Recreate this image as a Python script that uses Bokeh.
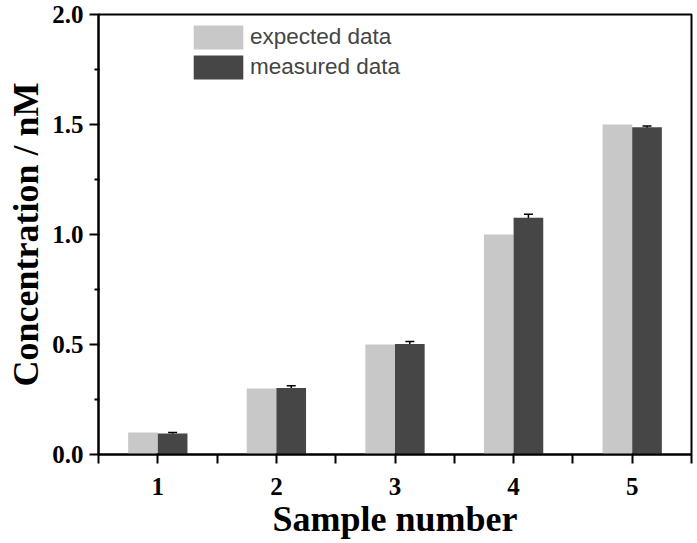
from bokeh.plotting import figure
from bokeh.models import ColumnDataSource, Whisker, FixedTicker, NumeralTickFormatter, Range1d, Legend, LegendItem
from bokeh.transform import dodge
from bokeh.embed import file_html
from bokeh.resources import INLINE

samples = [1, 2, 3, 4, 5]
expected = [0.10, 0.30, 0.50, 1.00, 1.50]
measured = [0.095, 0.302, 0.502, 1.076, 1.487]
measured_err = [0.005, 0.010, 0.012, 0.016, 0.006]
x_ticks = [1, 2, 3, 4, 5]
y_ticks = [0.0, 0.5, 1.0, 1.5, 2.0]

src = ColumnDataSource(dict(
    x=samples, expected=expected, measured=measured,
    upper=[m + e for m, e in zip(measured, measured_err)],
    lower=[m - e for m, e in zip(measured, measured_err)],
))

p = figure(width=693, height=541, output_backend="svg", toolbar_location=None,
           x_range=Range1d(0.5, 5.5), y_range=Range1d(0, 2.0))
p.min_border_left = 98
p.min_border_top = 14
p.min_border_right = 2
p.min_border_bottom = 80
p.outline_line_color = "black"
p.outline_line_width = 2
p.xgrid.visible = False
p.ygrid.visible = False

r1 = p.vbar(x=dodge("x", -0.125), top="expected", width=0.25, source=src,
            fill_color="#c8c8c8", line_color=None)
r2 = p.vbar(x=dodge("x", 0.125), top="measured", width=0.25, source=src,
            fill_color="#464646", line_color=None)

wh = Whisker(base=dodge("x", 0.125), upper="upper", lower="lower", source=src,
             line_color="black", line_width=1.5)
wh.upper_head.size = 9
wh.lower_head.size = 9
wh.upper_head.line_width = 1.5
wh.lower_head.line_width = 1.5
p.add_layout(wh)

font = "Liberation Serif"
for ax in (p.xaxis[0], p.yaxis[0]):
    ax.axis_line_width = 2
    ax.major_tick_line_width = 2
    ax.minor_tick_line_width = 2
    ax.major_tick_out = 9
    ax.major_tick_in = 1
    ax.major_label_text_font = font
    ax.major_label_text_font_style = "bold"
    ax.major_label_text_font_size = "25px"
    ax.axis_label_text_font = font
    ax.axis_label_text_font_style = "bold"
    ax.axis_label_text_font_size = "36px"
    ax.axis_label_text_color = "black"
    ax.major_label_text_color = "black"

p.xaxis.ticker = FixedTicker(ticks=x_ticks, minor_ticks=[0.5, 1.5, 2.5, 3.5, 4.5, 5.5])
p.xaxis.formatter = NumeralTickFormatter(format="0")
p.xaxis.minor_tick_out = 9
p.xaxis.minor_tick_in = 0
p.xaxis.axis_label = "Sample number"
p.xaxis.major_label_standoff = 14
p.xaxis.axis_label_standoff = 1

p.yaxis.ticker = FixedTicker(ticks=y_ticks, minor_ticks=[0.25, 0.75, 1.25, 1.75])
p.yaxis.formatter = NumeralTickFormatter(format="0.0")
p.yaxis.minor_tick_out = 4
p.yaxis.minor_tick_in = 1
p.yaxis.axis_label = "Concentration / nM"
p.yaxis.major_label_standoff = 6
p.yaxis.axis_label_standoff = 3

legend = Legend(items=[LegendItem(label="expected data", renderers=[r1]),
                       LegendItem(label="measured data", renderers=[r2])],
                location=(89, 372))
legend.glyph_width = 62
legend.glyph_height = 30
legend.spacing = -3
legend.padding = 0
legend.margin = 0
legend.label_standoff = 1
legend.label_text_font = "Liberation Sans"
legend.label_text_font_size = "22.5px"
legend.label_height = 30
legend.border_line_color = None
legend.background_fill_alpha = 0
p.add_layout(legend)

open("out.html", "w").write(file_html(p, INLINE))
